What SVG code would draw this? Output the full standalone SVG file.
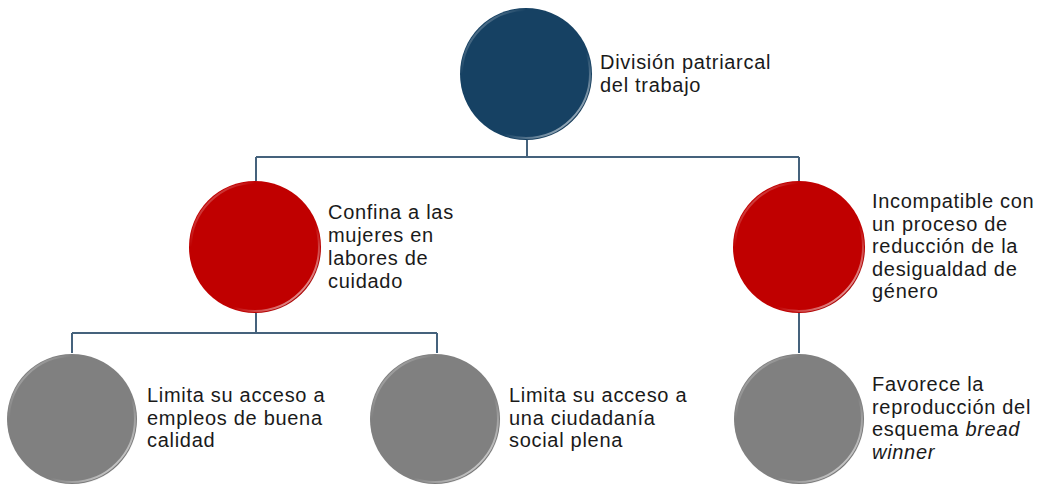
<svg xmlns="http://www.w3.org/2000/svg" width="1043" height="485" viewBox="0 0 1043 485">
<defs>
<linearGradient id="rim" x1="0" y1="0" x2="1" y2="1">
<stop offset="0" stop-color="#ffffff" stop-opacity="0.55"/>
<stop offset="0.25" stop-color="#ffffff" stop-opacity="0"/>
<stop offset="0.65" stop-color="#ffffff" stop-opacity="0"/>
<stop offset="1" stop-color="#ffffff" stop-opacity="0.9"/>
</linearGradient>
<linearGradient id="edge" x1="0" y1="0" x2="1" y2="1">
<stop offset="0" stop-color="#000000" stop-opacity="0"/>
<stop offset="0.7" stop-color="#000000" stop-opacity="0"/>
<stop offset="1" stop-color="#000000" stop-opacity="0.2"/>
</linearGradient>
</defs>
<style>
.lbl{font-family:"Liberation Sans",Arial,sans-serif;font-size:20px;letter-spacing:0.7px;fill:#1a1a1a}
.con{stroke:#45627c;stroke-width:2;fill:none}
.blue{fill:#164163}
.red{fill:#c00000}
.gray{fill:#808080}
.rim{fill:none;stroke:url(#rim);stroke-width:2}
.edge{fill:none;stroke:url(#edge);stroke-width:1.5}
</style>
<rect width="1043" height="485" fill="#ffffff"/>
<g id="connectors">
<path class="con" d="M527 140 V157 M256 157 H799 M256 157 V181 M799 157 V181"/>
<path class="con" d="M256 313 V333 M72 333 H437 M72 333 V353 M437 333 V353"/>
<path class="con" d="M799 313 V353"/>
</g>
<g id="n0">
<circle class="blue" cx="526" cy="74" r="66"/>
<circle class="rim" cx="526" cy="74" r="64"/>
<circle class="edge" cx="526" cy="74" r="65.5"/>
<text class="lbl" x="600" y="69"><tspan x="600">División patriarcal</tspan><tspan x="600" dy="23">del trabajo</tspan></text>
</g>
<g id="n1">
<circle class="red" cx="255" cy="247" r="66"/>
<circle class="rim" cx="255" cy="247" r="64"/>
<circle class="edge" cx="255" cy="247" r="65.5"/>
<text class="lbl" x="328" y="219"><tspan x="328">Confina a las</tspan><tspan x="328" dy="23">mujeres en</tspan><tspan x="328" dy="23">labores de</tspan><tspan x="328" dy="23">cuidado</tspan></text>
</g>
<g id="n2">
<circle class="red" cx="799" cy="247" r="66"/>
<circle class="rim" cx="799" cy="247" r="64"/>
<circle class="edge" cx="799" cy="247" r="65.5"/>
<text class="lbl" x="872" y="208"><tspan x="872">Incompatible con</tspan><tspan x="872" dy="22.5">un proceso de</tspan><tspan x="872" dy="22.5">reducción de la</tspan><tspan x="872" dy="22.5">desigualdad de</tspan><tspan x="872" dy="22.5">género</tspan></text>
</g>
<g id="n3">
<circle class="gray" cx="72" cy="419" r="65"/>
<circle class="rim" cx="72" cy="419" r="63"/>
<circle class="edge" cx="72" cy="419" r="64.5"/>
<text class="lbl" x="147" y="402"><tspan x="147">Limita su acceso a</tspan><tspan x="147" dy="22.5">empleos de buena</tspan><tspan x="147" dy="22.5">calidad</tspan></text>
</g>
<g id="n4">
<circle class="gray" cx="435" cy="419" r="65"/>
<circle class="rim" cx="435" cy="419" r="63"/>
<circle class="edge" cx="435" cy="419" r="64.5"/>
<text class="lbl" x="509" y="402"><tspan x="509">Limita su acceso a</tspan><tspan x="509" dy="22.5">una ciudadanía</tspan><tspan x="509" dy="22.5">social plena</tspan></text>
</g>
<g id="n5">
<circle class="gray" cx="799" cy="419" r="65"/>
<circle class="rim" cx="799" cy="419" r="63"/>
<circle class="edge" cx="799" cy="419" r="64.5"/>
<text class="lbl" x="872" y="391"><tspan x="872">Favorece la</tspan><tspan x="872" dy="22.5">reproducción del</tspan><tspan x="872" dy="22.5">esquema <tspan font-style="italic">bread</tspan></tspan><tspan x="872" dy="22.5" font-style="italic">winner</tspan></text>
</g>
</svg>
